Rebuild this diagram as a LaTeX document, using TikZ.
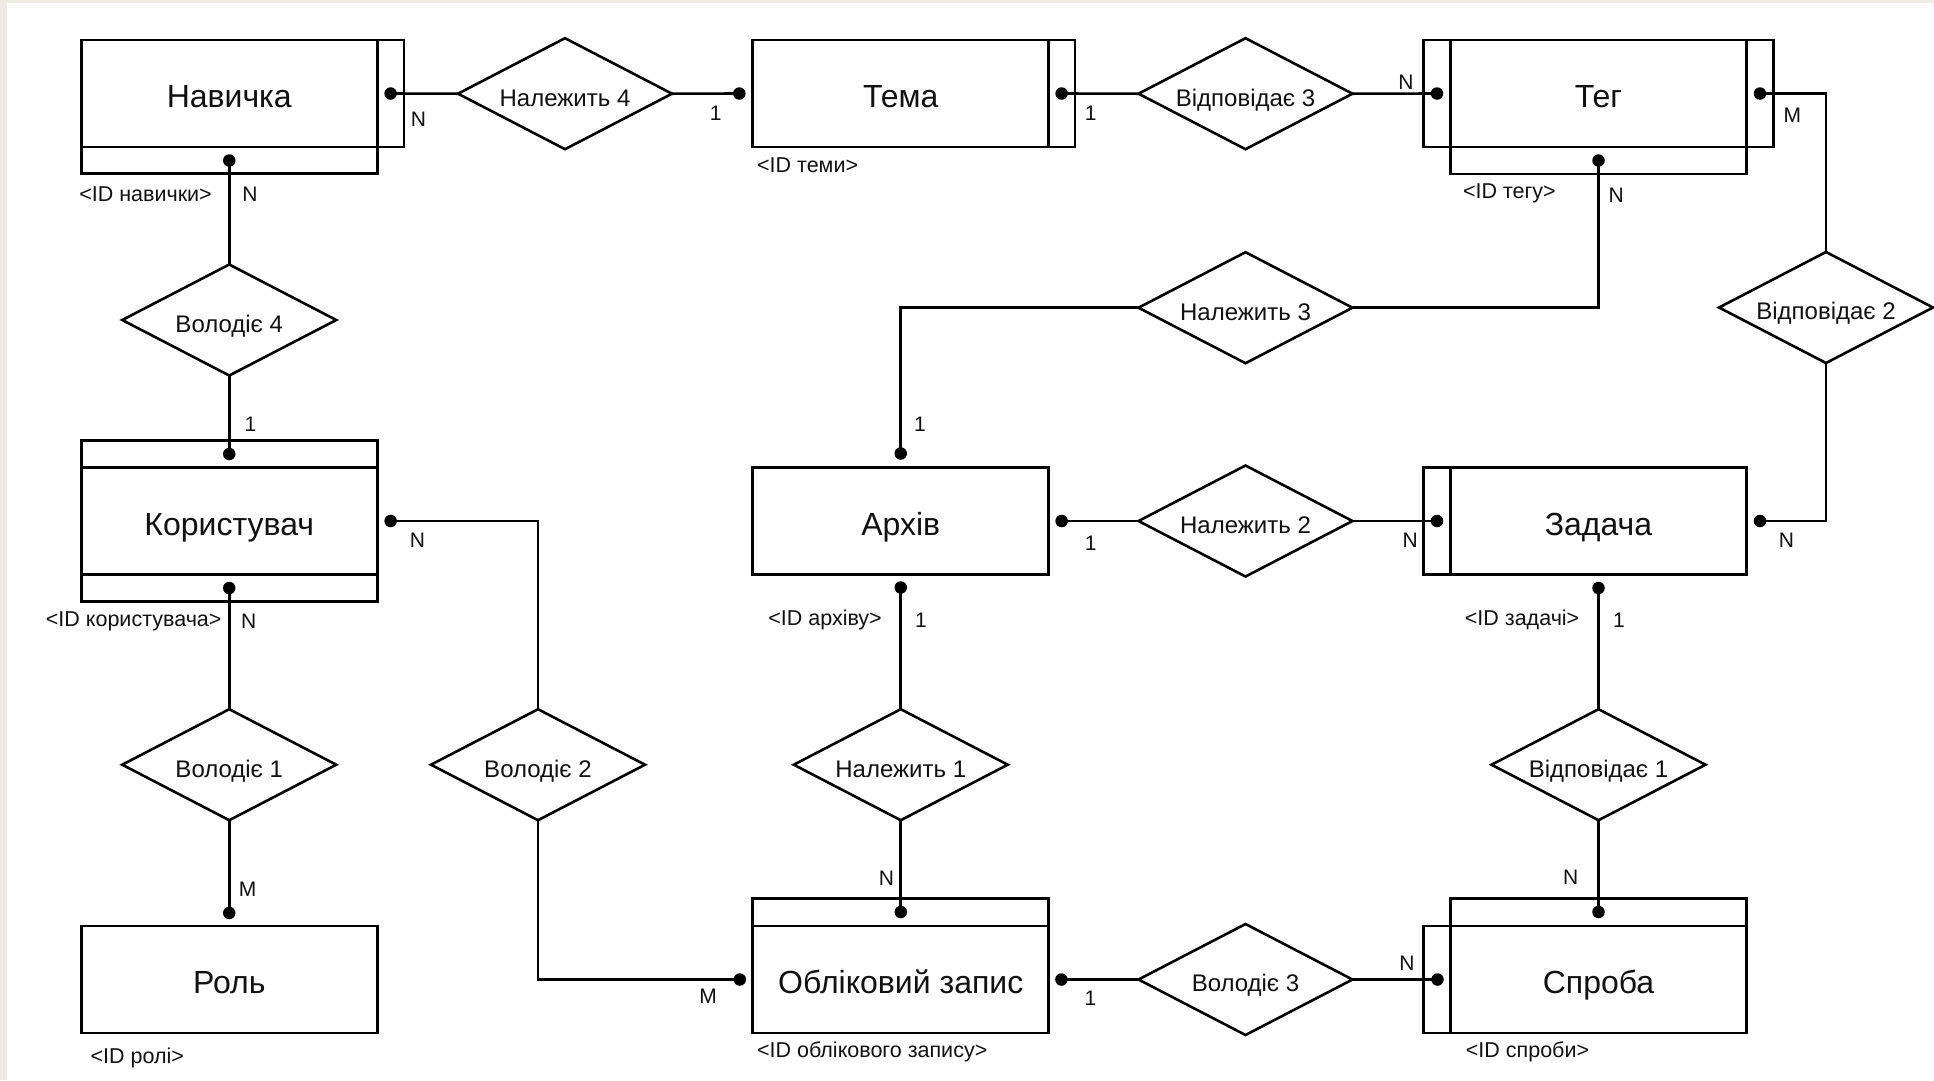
\documentclass[tikz,border=0pt]{standalone}
\usepackage{fontspec}
\setmainfont{Liberation Sans}
\usetikzlibrary{shapes.geometric}
\definecolor{beige}{HTML}{EEEBE3}
\definecolor{ink}{HTML}{111111}
\begin{document}
\begin{tikzpicture}[x=1pt,y=-1pt,
  line width=2.6pt,
  ent/.style={draw, rectangle, minimum width=296pt, minimum height=107pt, inner sep=0pt, outer sep=0pt, text=ink, font=\fontsize{32}{38}\selectfont, text height=28pt, text depth=0pt},
  rel/.style={draw, diamond, aspect=1.93, minimum width=214pt, minimum height=111pt, inner sep=0pt, outer sep=0pt, text=ink, font=\fontsize{24}{28}\selectfont, text height=24.6pt, text depth=0pt},
  dot/.style={circle, fill=black, minimum size=12.5pt, inner sep=0pt, outer sep=0pt},
  lbl/.style={inner sep=0pt, text=ink, font=\fontsize{21}{25}\selectfont},
  idl/.style={inner sep=0pt, anchor=west, text=ink, font=\fontsize{21.5}{25}\selectfont}
]
\fill[beige] (0,0) rectangle (1934,1080);
\fill[white] (6.7,3.3) rectangle (1934,1080);
\useasboundingbox (0,0) rectangle (1934,1080);

% ---------- entities ----------
\node[ent] (nav) at (229.25,93.5) {Навичка};
\draw (377.25,40) rectangle (404,147);
\draw (81.25,147) rectangle (377.25,173.5);

\node[ent] (tem) at (900.75,93.5) {Тема};
\draw (1048.75,40) rectangle (1075,147);

\node[ent] (teg) at (1598.5,93.5) {Тег};
\draw (1423.5,40) rectangle (1450.5,147);
\draw (1746.5,40) rectangle (1773.5,147);
\draw (1450.5,147) rectangle (1746.5,174);

\node[ent] (kor) at (229.25,521) {Користувач};
\draw (81.25,440.7) rectangle (377.25,467.5);
\draw (81.25,574.5) rectangle (377.25,601.5);

\node[ent] (arc) at (900.75,521) {Архів};

\node[ent] (zad) at (1598.5,521) {Задача};
\draw (1423.5,467.5) rectangle (1450.5,574.5);

\node[ent] (rol) at (229.25,979.5) {Роль};

\node[ent] (obl) at (900.75,979.5) {Обліковий запис};
\draw (752.75,898.5) rectangle (1048.75,926);

\node[ent] (spr) at (1598.5,979.5) {Спроба};
\draw (1423.5,926) rectangle (1450.5,1033);
\draw (1450.5,898.5) rectangle (1746.5,926);

% ---------- relationships ----------
\node[rel] (r4) at (565,93.7) {Належить 4};
\node[rel] (v3) at (1245.5,93.7) {Відповідає 3};
\node[rel] (n3) at (1245.5,307.7) {Належить 3};
\node[rel] (v2) at (1826,307.5) {Відповідає 2};
\node[rel] (w4) at (229.25,320) {Володіє 4};
\node[rel] (n2) at (1245.5,521) {Належить 2};
\node[rel] (w1) at (229.25,764.7) {Володіє 1};
\node[rel] (w2) at (538,764.7) {Володіє 2};
\node[rel] (n1) at (900.75,764.7) {Належить 1};
\node[rel] (v1) at (1598.5,764.7) {Відповідає 1};
\node[rel] (w3) at (1245.5,979.5) {Володіє 3};

% ---------- dots ----------
\node[dot] (navR) at (390.6,93.5) {};
\node[dot] (navB) at (229.25,160.5) {};
\node[dot] (temL) at (739.3,93.5) {};
\node[dot] (temR) at (1061.6,93.5) {};
\node[dot] (tegL) at (1437,93.5) {};
\node[dot] (tegR) at (1760,93.5) {};
\node[dot] (tegB) at (1598.5,160.5) {};
\node[dot] (korT) at (229.25,454) {};
\node[dot] (korB) at (229.25,588) {};
\node[dot] (korR) at (390.6,521) {};
\node[dot] (arcT) at (900.75,453.5) {};
\node[dot] (arcB) at (900.75,587.5) {};
\node[dot] (arcR) at (1061.6,521) {};
\node[dot] (zadL) at (1437,521) {};
\node[dot] (zadR) at (1760,521) {};
\node[dot] (zadB) at (1598.5,588) {};
\node[dot] (rolT) at (229.25,913) {};
\node[dot] (oblT) at (900.75,912) {};
\node[dot] (oblL) at (739.8,979.5) {};
\node[dot] (oblR) at (1061.4,979.5) {};
\node[dot] (sprT) at (1598.5,912) {};
\node[dot] (sprL) at (1437.5,979.5) {};

% ---------- connectors ----------
\draw (navR.center) -- (r4.west);
\draw (r4.east) -- (temL.center);
\draw (temR.center) -- (v3.west);
\draw (v3.east) -- (tegL.center);
\draw (tegR.center) -| (v2.north);
\draw (v2.south) |- (zadR.center);
\draw (tegB.center) |- (n3.east);
\draw (n3.west) -| (arcT.center);
\draw (arcR.center) -- (n2.west);
\draw (n2.east) -- (zadL.center);
\draw (zadB.center) -- (v1.north);
\draw (v1.south) -- (sprT.center);
\draw (arcB.center) -- (n1.north);
\draw (n1.south) -- (oblT.center);
\draw (oblR.center) -- (w3.west);
\draw (w3.east) -- (sprL.center);
\draw (navB.center) -- (w4.north);
\draw (w4.south) -- (korT.center);
\draw (korB.center) -- (w1.north);
\draw (w1.south) -- (rolT.center);
\draw (korR.center) -| (w2.north);
\draw (w2.south) |- (oblL.center);

% ---------- cardinality labels ----------
\node[lbl] (c1) at (418.5,119) {N};
\node[lbl] (c2) at (250,194) {N};
\node[lbl] (c3) at (715.6,113) {1};
\node[lbl] (c4) at (1090.6,113) {1};
\node[lbl] (c5) at (1406,82) {N};
\node[lbl] (c6) at (1792.4,115) {M};
\node[lbl] (c7) at (1616.3,195) {N};
\node[lbl] (c8) at (250.4,424.3) {1};
\node[lbl] (c9) at (920,424.3) {1};
\node[lbl] (c10) at (417.4,540) {N};
\node[lbl] (c11) at (1090.6,543) {1};
\node[lbl] (c12) at (1410.3,540) {N};
\node[lbl] (c13) at (1786.4,540) {N};
\node[lbl] (c14) at (248.6,621) {N};
\node[lbl] (c15) at (921,620) {1};
\node[lbl] (c16) at (1619,620) {1};
\node[lbl] (c17) at (247.5,889) {M};
\node[lbl] (c18) at (886.5,878) {N};
\node[lbl] (c19) at (1570.7,877) {N};
\node[lbl] (c20) at (708,996.7) {M};
\node[lbl] (c21) at (1090.5,998.3) {1};
\node[lbl] (c22) at (1407,963.3) {N};

% ---------- key labels ----------
\node[idl] (k1) at (78,194) {<ID навички>};
\node[idl] (k2) at (755.8,165) {<ID теми>};
\node[idl] (k3) at (1461.7,193) {<ID тегу>};
\node[idl] (k4) at (44.6,621) {<ID користувача>};
\node[idl] (k5) at (767,620) {<ID архіву>};
\node[idl] (k6) at (1463.6,620) {<ID задачі>};
\node[idl] (k7) at (89.3,1058.3) {<ID ролі>};
\node[idl] (k8) at (755.8,1051.7) {<ID облікового запису>};
\node[idl] (k9) at (1464.6,1051.7) {<ID спроби>};
\end{tikzpicture}
\end{document}
